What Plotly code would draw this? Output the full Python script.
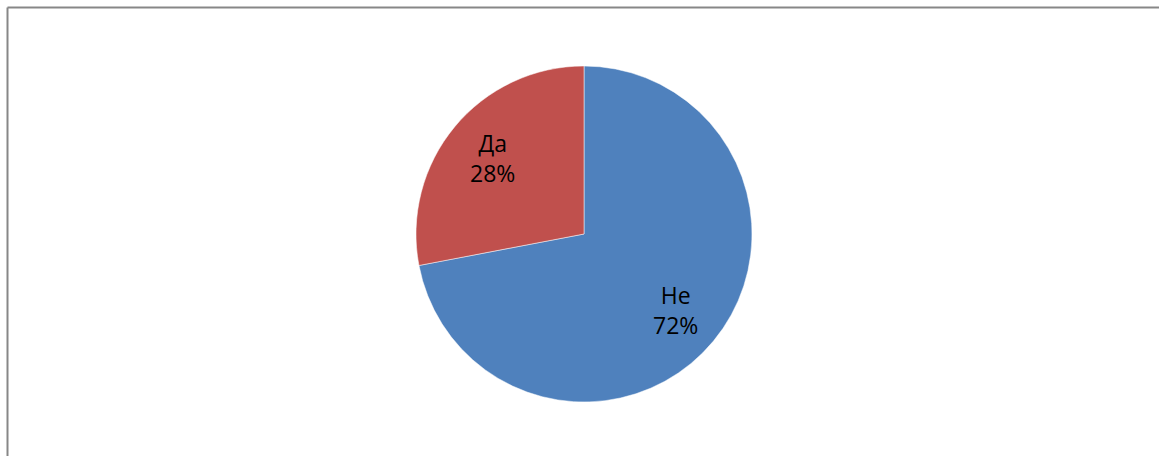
import math
import plotly.graph_objects as go

labels = ["Не", "Да"]
values = [72, 28]
colors = ["#4F81BD", "#C0504D"]

W, H = 1159, 456
CX, CY, R = 584, 234, 168  # pie centre / radius in pixels (layout)
LABEL_FRAC = 0.71

fig = go.Figure(go.Pie(
    labels=labels,
    values=values,
    sort=False,
    direction="clockwise",
    rotation=0,
    marker=dict(colors=colors, line=dict(color="white", width=0.5)),
    textinfo="none",
    domain=dict(x=[(CX - R) / W, (CX + R) / W], y=[(H - CY - R) / H, (H - CY + R) / H]),
    showlegend=False,
    hoverinfo="label+percent",
))

total = sum(values)
annotations = []
cum = 0.0
for lab, v in zip(labels, values):
    mid = (cum + v / 2) / total * 2 * math.pi
    cum += v
    sx = CX + R * LABEL_FRAC * math.sin(mid)
    sy = CY - R * LABEL_FRAC * math.cos(mid)
    annotations.append(dict(
        x=sx / W, y=1 - sy / H, xref="paper", yref="paper",
        text=f"{lab}<br>{round(v / total * 100)}%",
        showarrow=False, xanchor="center", yanchor="middle",
        font=dict(family="Open Sans, Liberation Sans, sans-serif", size=23, color="black"),
    ))

fig.update_layout(
    width=W, height=H,
    margin=dict(l=0, r=0, t=0, b=0),
    paper_bgcolor="white",
    plot_bgcolor="white",
    annotations=annotations,
    shapes=[
        dict(type="line", xref="paper", yref="paper",
             x0=7.5 / W, x1=1.0, y0=(H - 7.5) / H, y1=(H - 7.5) / H,
             line=dict(color="#878787", width=2)),
        dict(type="line", xref="paper", yref="paper",
             x0=7.5 / W, x1=7.5 / W, y0=0, y1=(H - 7.5) / H,
             line=dict(color="#878787", width=2)),
    ],
)

fig.write_html(
    "out.html",
    config={"displayModeBar": False},
    post_script="document.body.style.margin='0';document.body.style.overflow='hidden';",
)
